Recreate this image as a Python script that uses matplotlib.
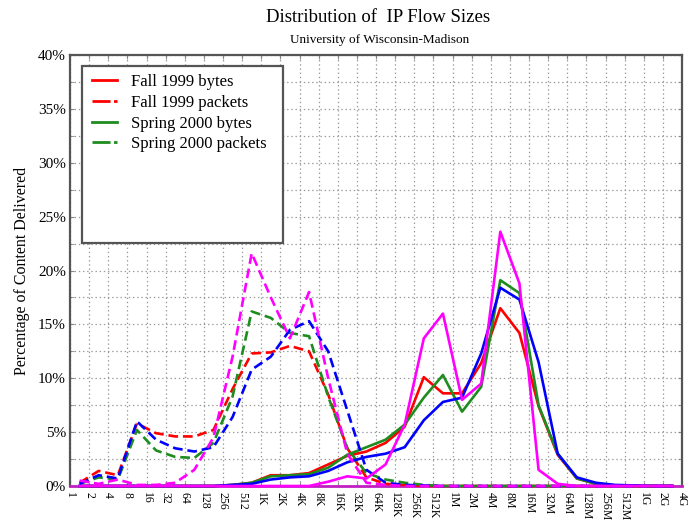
import matplotlib
matplotlib.use("Agg")
import matplotlib.pyplot as plt
from matplotlib.lines import Line2D
from matplotlib.patches import Rectangle
import numpy as np

# === DATA (percent of content per size bin, bins 1..4G) ===
tick_labels = ["1", "2", "4", "8", "16", "32", "64", "128", "256", "512",
               "1K", "2K", "4K", "8K", "16K", "32K", "64K", "128K", "256K", "512K",
               "1M", "2M", "4M", "8M", "16M", "32M", "64M", "128M", "256M", "512M",
               "1G", "2G", "4G"]

fall99_bytes = [0, 0, 0, 0, 0, 0, 0, 0, 0.1, 0.3,
                1.0, 1.0, 1.2, 2.0, 2.8, 3.2, 4.0, 5.5, 10.1, 8.6,
                8.6, 11.4, 16.5, 14.2, 7.4, 2.9, 0.7, 0.2, 0.05, 0,
                0, 0]
fall99_packets = [0.3, 1.4, 1.0, 5.8, 4.9, 4.6, 4.6, 5.2, 9.0, 12.3,
                  12.4, 13.0, 12.5, 8.5, 3.5, 0.8, 0.2, 0.1, 0, 0,
                  0, 0, 0, 0, 0, 0, 0, 0, 0, 0,
                  0, 0]
spring00_bytes = [0, 0, 0, 0, 0, 0, 0, 0, 0.1, 0.3,
                  0.9, 1.0, 1.1, 1.7, 2.9, 3.6, 4.3, 5.7, 8.2, 10.3,
                  6.9, 9.2, 19.1, 17.9, 7.5, 3.0, 0.7, 0.2, 0.05, 0,
                  0, 0]
spring00_packets = [0.2, 0.8, 0.6, 5.2, 3.3, 2.7, 2.6, 4.0, 8.3, 16.2,
                    15.6, 14.2, 13.9, 8.3, 3.5, 1.2, 0.6, 0.3, 0.1, 0,
                    0, 0, 0, 0, 0, 0, 0, 0, 0, 0,
                    0, 0]
blue_bytes = [0, 0, 0, 0, 0, 0, 0, 0, 0.1, 0.2,
              0.6, 0.8, 0.9, 1.4, 2.2, 2.7, 3.0, 3.6, 6.1, 7.8,
              8.2, 12.3, 18.4, 17.3, 11.5, 3.0, 0.8, 0.3, 0.1, 0.05,
              0, 0]
blue_packets = [0.2, 1.0, 0.7, 6.0, 4.3, 3.5, 3.2, 3.6, 6.4, 10.8,
                12.0, 14.5, 15.3, 12.5, 7.0, 1.5, 0.3, 0.1, 0.05, 0,
                0, 0, 0, 0, 0, 0, 0, 0, 0, 0,
                0, 0]
magenta_bytes = [0, 0, 0, 0, 0, 0, 0, 0, 0, 0,
                 0, 0, 0, 0.4, 0.9, 0.7, 2.0, 5.7, 13.7, 16.0,
                 8.0, 9.5, 23.6, 18.8, 1.5, 0.2, 0, 0, 0, 0,
                 0, 0]
magenta_packets = [0.5, 0.2, 0.6, 0.1, 0.1, 0.3, 1.5, 4.5, 12.0, 21.6,
                   17.5, 13.7, 18.0, 10.0, 3.0, 0.3, 0.1, 0, 0, 0,
                   0, 0, 0, 0, 0, 0, 0, 0, 0, 0,
                   0, 0]

RED = "#ff0000"
GREEN = "#1e8c1e"
BLUE = "#0000ff"
MAGENTA = "#ff00ff"
DASH = (0, (7, 3.5))

plt.rcParams["font.family"] = ["Liberation Serif", "DejaVu Serif"]
plt.rcParams["lines.scale_dashes"] = False

fig = plt.figure(figsize=(6.9, 5.21), dpi=100)
ax = fig.add_axes([70 / 690, 35 / 521, 612 / 690, 431 / 521])

x = np.arange(len(fall99_bytes)) + 0.5
series = [
    (fall99_bytes, RED, "-"),
    (fall99_packets, RED, DASH),
    (spring00_bytes, GREEN, "-"),
    (spring00_packets, GREEN, DASH),
    (blue_bytes, BLUE, "-"),
    (blue_packets, BLUE, DASH),
    (magenta_bytes, MAGENTA, "-"),
    (magenta_packets, MAGENTA, DASH),
]
for vals, col, ls in series:
    ax.plot(x, vals, color=col, linestyle=ls, linewidth=1.9, clip_on=False, zorder=3)

ax.set_xlim(0, 32)
ax.set_ylim(0, 40)
ax.set_xticks(np.arange(33))
ax.set_xticklabels(tick_labels, rotation=270, fontsize=8.5)
ax.set_yticks(np.arange(0, 41, 5))
ax.set_yticklabels([f"{v}%" for v in range(0, 41, 5)], fontsize=11)
ax.set_yticks(np.arange(0, 40.1, 2.5), minor=True)
ax.tick_params(axis="both", which="both", direction="in", length=3, color="#888888",
               top=True, right=True, pad=3)
ax.tick_params(axis="x", pad=4)
ax.grid(True, which="major", axis="x", linestyle=(0, (1, 2)), color="#999999", linewidth=0.9)
ax.grid(True, which="both", axis="y", linestyle=(0, (1, 2)), color="#999999", linewidth=0.9)
for s in ax.spines.values():
    s.set_color("#555555")
    s.set_linewidth(1.6)
# bottom axis looks purple in the original (magenta zero line over the frame)
ax.spines["bottom"].set_color("#c020c0")
ax.spines["bottom"].set_linewidth(2)

ax.set_ylabel("Percentage of Content Delivered", fontsize=11.5, labelpad=6)
fig.text(378 / 690, 1 - 18 / 521, "Distribution of  IP Flow Sizes", ha="center", va="center", fontsize=13.5)
fig.text(380 / 690, 1 - 40 / 521, "University of Wisconsin-Madison", ha="center", va="center", fontsize=9.5)

# legend with a tall frame
leg_dash = (0, (13, 2.5))
handles = [
    Line2D([], [], color=RED, linewidth=2),
    Line2D([], [], color=RED, linewidth=2, linestyle=leg_dash),
    Line2D([], [], color=GREEN, linewidth=2),
    Line2D([], [], color=GREEN, linewidth=2, linestyle=leg_dash),
]
labels = ["Fall 1999 bytes", "Fall 1999 packets", "Spring 2000 bytes", "Spring 2000 packets"]
ax.legend(handles, labels, loc="upper left", bbox_to_anchor=(0.012, 0.99), frameon=False,
          fontsize=12, handlelength=1.5, handletextpad=0.8, labelspacing=0.28)
ax.add_patch(Rectangle((12 / 612, (486 - 243) / 431), 201 / 612, 177 / 431, transform=ax.transAxes,
                       facecolor="none", edgecolor="#555555", linewidth=1.6, zorder=4))
ax.add_patch(Rectangle((12 / 612, (486 - 243) / 431), 201 / 612, 177 / 431, transform=ax.transAxes,
                       facecolor="white", edgecolor="none", zorder=2.5))

fig.savefig("out.png", dpi=100)
